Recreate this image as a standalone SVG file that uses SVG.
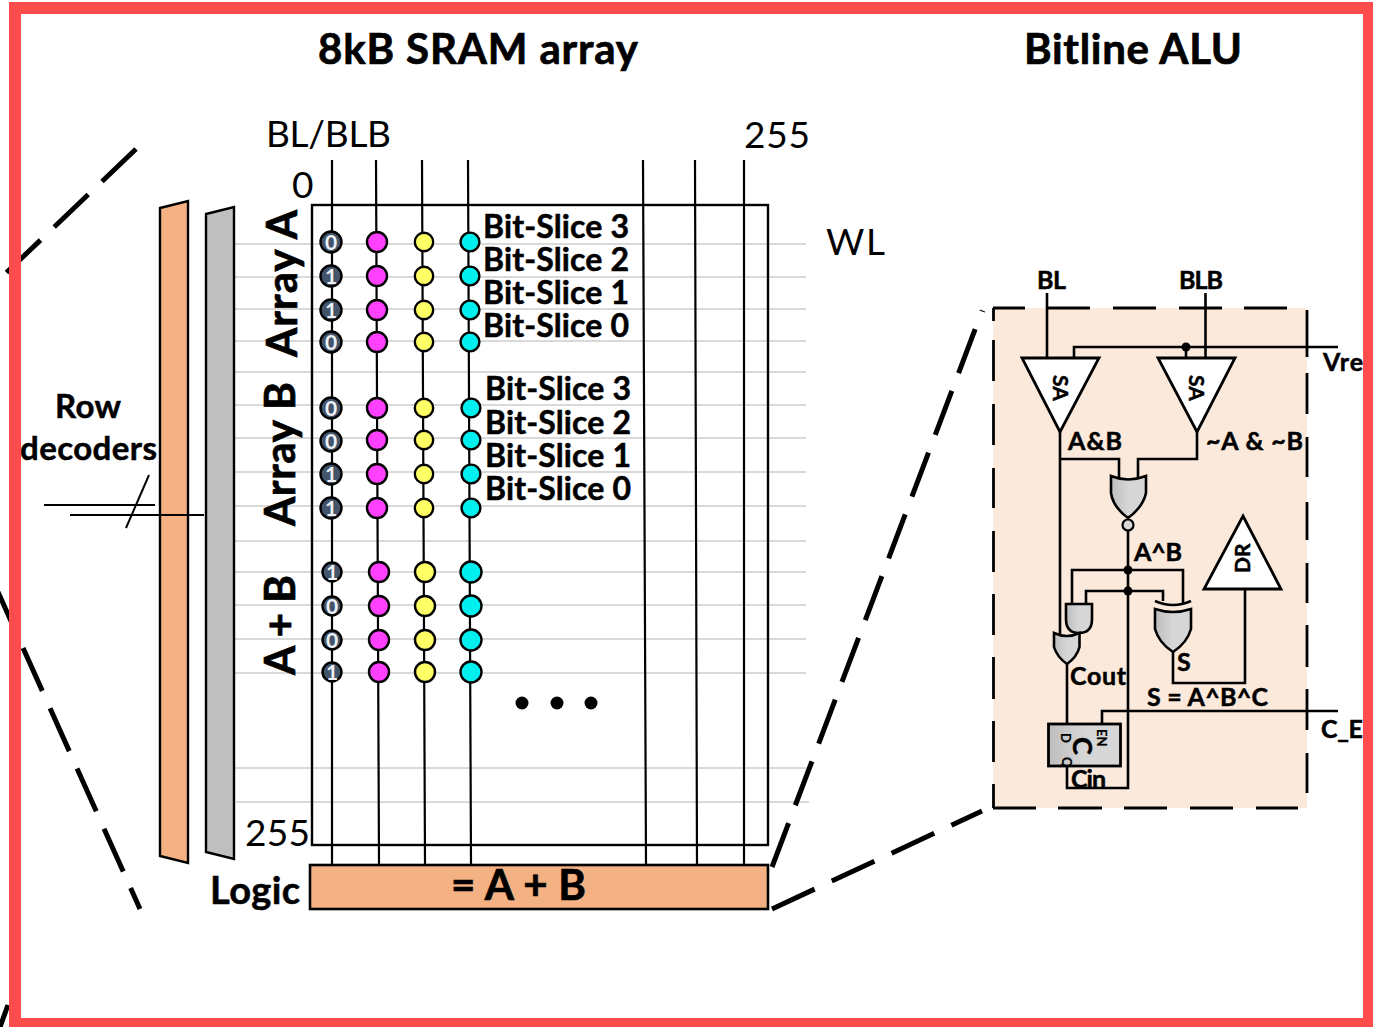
<svg xmlns="http://www.w3.org/2000/svg" width="1373" height="1027" viewBox="0 0 1373 1027">
<defs>
<linearGradient id="g" x1="0" x2="1" y1="0" y2="0"><stop offset="0" stop-color="#bdbdbd"/><stop offset=".5" stop-color="#d6d6d6"/><stop offset="1" stop-color="#d6d6d6"/></linearGradient>
</defs>
<style>
text{font-family:"Lato","Carlito","Open Sans",sans-serif;fill:#000}
.b,.t,.s,.r{font-weight:700;stroke:#000;stroke-width:.5}
.t{font-size:42px;stroke-width:.7}
.n{font-size:37px}
.s{font-size:32px}
.r{font-size:25px}
.wl{stroke:#d9d9d9;stroke-width:2;fill:none}
.bit{stroke:#000;stroke-width:2.2;fill:none}
.w{stroke:#000;stroke-width:2.6;fill:none}
.big{stroke:#000;stroke-width:5;fill:none;stroke-dasharray:47 19}
.pd{stroke:#000;stroke-width:2.8;fill:none}
.c0 circle{fill:#44546a;stroke:#000;stroke-width:2.4}
.c0 text{font-size:21px;font-weight:700;fill:#eef2f7;text-anchor:middle}
.m circle{fill:#ff40ff;stroke:#000;stroke-width:2.4}
.y circle{fill:#ffff66;stroke:#000;stroke-width:2.4}
.cy circle{fill:#00f0f0;stroke:#000;stroke-width:2.4}
.gate{fill:url(#g);stroke:#000;stroke-width:2.6}
.tri{fill:#fff;stroke:#000;stroke-width:2.8}
.dot{fill:#000}
</style>
<rect width="1373" height="1027" fill="#fff"/>

<g id="connectors">
<path class="wl" d="M234 244H806M234 277H806M234 309H806M234 341H806M234 372H806M234 405H806M234 438H806M234 472H806M234 506H806M234 541H806M234 572H806M234 605H806M234 639H806M234 673H806M234 768H806M236 802H809"/>
<path class="bit" d="M332 160V865M376 160L379 865M422 160L425 865M468 160L471 865M643 160L646 865M695 160L697 865M744 160V865"/>
<path class="big" d="M772 867L982 311"/>
<path d="M980 310L985 312" stroke="#000" stroke-width="1" fill="none"/>
<path class="big" d="M772 909L982 811"/>
<path class="big" d="M136 149L6 273"/>
<path class="big" style="stroke-dasharray:23 18 47 19 47 19 47 19 47 19 47 19 47 19" d="M140 909L-2 592"/>
<path class="big" style="stroke-dasharray:none" d="M0 1027L8 1005"/>
</g>

<g id="row-decoder-bar"><polygon points="160,208 188,201 188,863 160,856" fill="#f4b183" stroke="#000" stroke-width="2.4"/></g>
<g id="wordline-driver-bar"><polygon points="206,214 234,207 234,859 206,852" fill="#bfbfbf" stroke="#000" stroke-width="2.4"/></g>
<g id="address-bus"><path class="w" style="stroke-width:2" d="M44 505H155M70 515H204M149 475L126 528"/></g>
<g id="array"><rect x="312" y="205" width="456" height="640" fill="none" stroke="#000" stroke-width="2.4"/></g>
<g id="logic"><rect x="310" y="865" width="458" height="44" fill="#f4b183" stroke="#000" stroke-width="2.6"/>
<text class="t" x="451" y="900" textLength="135">= A + B</text></g>

<g id="labels">
<text class="t" x="318" y="64" textLength="320">8kB SRAM array</text>
<text class="t" x="1024" y="64" textLength="218">Bitline ALU</text>
<text class="n" x="266" y="147" textLength="125">BL/BLB</text>
<text class="n" x="744" y="148" textLength="66">255</text>
<text class="n" x="292" y="198">0</text>
<text class="n" x="826" y="255" textLength="59">WL</text>
<text class="n" x="245" y="846" textLength="65">255</text>
<text class="b" x="55" y="418" font-size="33" textLength="66">Row</text>
<text class="b" x="20" y="460" font-size="33" textLength="137">decoders</text>
<text class="b" x="210" y="904" font-size="38" textLength="90">Logic</text>
<text class="t" transform="translate(297,357) rotate(-90)" textLength="147">Array A</text>
<text class="t" transform="translate(295,526) rotate(-90)" textLength="144">Array B</text>
<text class="t" transform="translate(295,675) rotate(-90)" textLength="100">A + B</text>
<text class="s" x="483" y="238" textLength="146">Bit-Slice 3</text>
<text class="s" x="483" y="271" textLength="146">Bit-Slice 2</text>
<text class="s" x="483" y="304" textLength="146">Bit-Slice 1</text>
<text class="s" x="483" y="337" textLength="146">Bit-Slice 0</text>
<text class="s" x="485" y="400" textLength="146">Bit-Slice 3</text>
<text class="s" x="485" y="434" textLength="146">Bit-Slice 2</text>
<text class="s" x="485" y="467" textLength="146">Bit-Slice 1</text>
<text class="s" x="485" y="500" textLength="146">Bit-Slice 0</text>
</g>

<g id="col-0" class="c0">
<circle cx="331" cy="242" r="10.5"/><text x="331" y="249.500">0</text>
<circle cx="331" cy="276" r="10.5"/><text x="331" y="283.500">1</text>
<circle cx="331" cy="310" r="10.5"/><text x="331" y="317.500">1</text>
<circle cx="331" cy="342" r="10.500"/><text x="331" y="349.500">0</text>
<circle cx="331" cy="408" r="10.5"/><text x="331" y="415.500">0</text>
<circle cx="331" cy="441" r="10.5"/><text x="331" y="448.500">0</text>
<circle cx="331" cy="474" r="10.5"/><text x="331" y="481.500">1</text>
<circle cx="331" cy="508" r="10.5"/><text x="331" y="515.500">1</text>
<circle cx="332" cy="572" r="9.5"/><text x="332" y="579.500">1</text>
<circle cx="332" cy="606" r="9.5"/><text x="332" y="613.500">0</text>
<circle cx="332" cy="640" r="9.5"/><text x="332" y="647.500">0</text>
<circle cx="332" cy="672" r="9.5"/><text x="332" y="679.500">1</text>
</g>
<g id="col-1" class="m">
<circle cx="377" cy="242" r="10"/><circle cx="377" cy="276" r="10"/><circle cx="377" cy="310" r="10"/><circle cx="377" cy="342" r="10"/>
<circle cx="377" cy="408" r="10"/><circle cx="377" cy="440" r="10"/><circle cx="377" cy="474" r="10"/><circle cx="377" cy="508" r="10"/>
<circle cx="379" cy="572" r="10"/><circle cx="379" cy="606" r="10"/><circle cx="379" cy="640" r="10"/><circle cx="379" cy="672" r="10"/>
</g>
<g id="col-2" class="y">
<circle cx="424" cy="242" r="9.2"/><circle cx="424" cy="276" r="9.2"/><circle cx="424" cy="310" r="9.2"/><circle cx="424" cy="342" r="9.2"/>
<circle cx="424" cy="408" r="9.2"/><circle cx="424" cy="440" r="9.2"/><circle cx="424" cy="474" r="9.2"/><circle cx="424" cy="508" r="9.2"/>
<circle cx="425" cy="572" r="10"/><circle cx="425" cy="606" r="10"/><circle cx="425" cy="640" r="10"/><circle cx="425" cy="672" r="10"/>
</g>
<g id="col-3" class="cy">
<circle cx="470" cy="242" r="9.4"/><circle cx="470" cy="276" r="9.4"/><circle cx="470" cy="310" r="9.4"/><circle cx="470" cy="342" r="9.4"/>
<circle cx="471" cy="408" r="9.4"/><circle cx="471" cy="440" r="9.4"/><circle cx="471" cy="474" r="9.4"/><circle cx="471" cy="508" r="9.4"/>
<circle cx="471" cy="572" r="10.5"/><circle cx="471" cy="606" r="10.5"/><circle cx="471" cy="640" r="10.5"/><circle cx="471" cy="672" r="10.5"/>
</g>
<g id="more-dots"><circle class="dot" cx="522" cy="703" r="6.5"/><circle class="dot" cx="557" cy="703" r="6.5"/><circle class="dot" cx="591" cy="703" r="6.5"/></g>

<g id="alu-panel">
<rect x="993" y="308" width="314" height="500" fill="#fbe9db"/>
<path class="pd" d="M993 308H1025M1048 308H1090M1113 308H1156M1179 308H1222M1244 308H1287"/>
<path class="pd" d="M1307 310V357M1307 373V414M1307 437V477M1307 502V540M1307 563V603M1307 625V667M1307 689V730M1307 753V793"/>
<path class="pd" d="M993 808H1036M1058 808H1102M1124 808H1167M1190 808H1233M1256 808H1298"/>
<path class="pd" d="M993.500 308V321M993.500 340V381M993.500 404V445M993.500 468V508M993.500 531V572M993.500 594V635M993.500 657V699M993.500 721V762M993.500 784V808"/>
</g>
<g id="alu-wires">
<path class="w" d="M1047 293V358M1205.500 293V358M1074 358V347H1338M1186 347V358M1060 432V634M1197 432V459H1138V478M1060 459H1119V478M1128 530V591M1072 604V570H1183V604M1086 604V591H1163V601M1128 591V788H1067V766M1173 652V683H1245V589M1067 664V724M1102 724V711H1338"/>
<circle class="dot" cx="1186" cy="347" r="4.5"/><circle class="dot" cx="1128" cy="570" r="4.5"/><circle class="dot" cx="1128" cy="591" r="4.5"/>
</g>
<g id="sa-a"><polygon class="tri" points="1022,358 1099,358 1060,432"/><text class="b" font-size="21" transform="translate(1053,375) rotate(90)">SA</text></g>
<g id="sa-b"><polygon class="tri" points="1158,358 1235,358 1197,432"/><text class="b" font-size="21" transform="translate(1189,375) rotate(90)">SA</text></g>
<g id="nor"><path class="gate" d="M1111 476Q1128 483 1146 476V493Q1143 507 1128 518Q1113 507 1111 493Z"/><circle cx="1128" cy="525" r="5.5" fill="#d9d9d9" stroke="#000" stroke-width="2.2"/></g>
<g id="dr"><polygon class="tri" points="1243,516 1281,589 1204,589"/><text class="b" font-size="21" transform="translate(1250,573) rotate(-90)">DR</text></g>
<g id="and"><path class="gate" d="M1066 604H1092V619Q1092 633 1079 633Q1066 633 1066 619Z"/></g>
<g id="or"><path class="gate" d="M1054 633Q1067 639 1079.500 633V647Q1077 657 1067 664Q1057 657 1054 647Z"/></g>
<g id="xor"><path class="gate" d="M1155 609Q1173 615 1191 609V629Q1187 643 1173 652Q1159 643 1155 629Z"/><path class="w" d="M1155 601Q1173 609 1191 601"/></g>
<g id="latch"><rect x="1048.500" y="724" width="72" height="42" fill="url(#g)" stroke="#000" stroke-width="2.800"/>
<text class="b" font-size="27" transform="translate(1073,737) rotate(90)">C</text>
<text class="b" font-size="13" style="stroke-width:.2" transform="translate(1061,733) rotate(90)">D</text>
<text class="b" font-size="13" style="stroke-width:.2" transform="translate(1097,729) rotate(90)">EN</text>
<text class="b" font-size="13" style="stroke-width:.2" transform="translate(1062,757) rotate(90)">Q</text></g>
<g id="alu-labels">
<text class="r" x="1037" y="289" textLength="29">BL</text>
<text class="r" x="1179" y="289" textLength="44">BLB</text>
<text class="r" x="1323" y="371" textLength="40">Vre</text>
<text class="r" x="1068" y="450" textLength="54">A&amp;B</text>
<text class="r" x="1206" y="450" textLength="97">~A &amp; ~B</text>
<text class="r" x="1134" y="561" textLength="48">A^B</text>
<text class="r" x="1070" y="685" textLength="56">Cout</text>
<text class="r" x="1177" y="671">S</text>
<text class="r" x="1147" y="706" textLength="121">S = A^B^C</text>
<text class="r" x="1321" y="738" textLength="42">C_E</text>
<text class="r" x="1071" y="788" textLength="35">Cin</text>
</g>
<g id="frame"><rect x="15" y="8" width="1354" height="1016" fill="none" stroke="#fe4c4c" stroke-width="12"/></g>
</svg>
